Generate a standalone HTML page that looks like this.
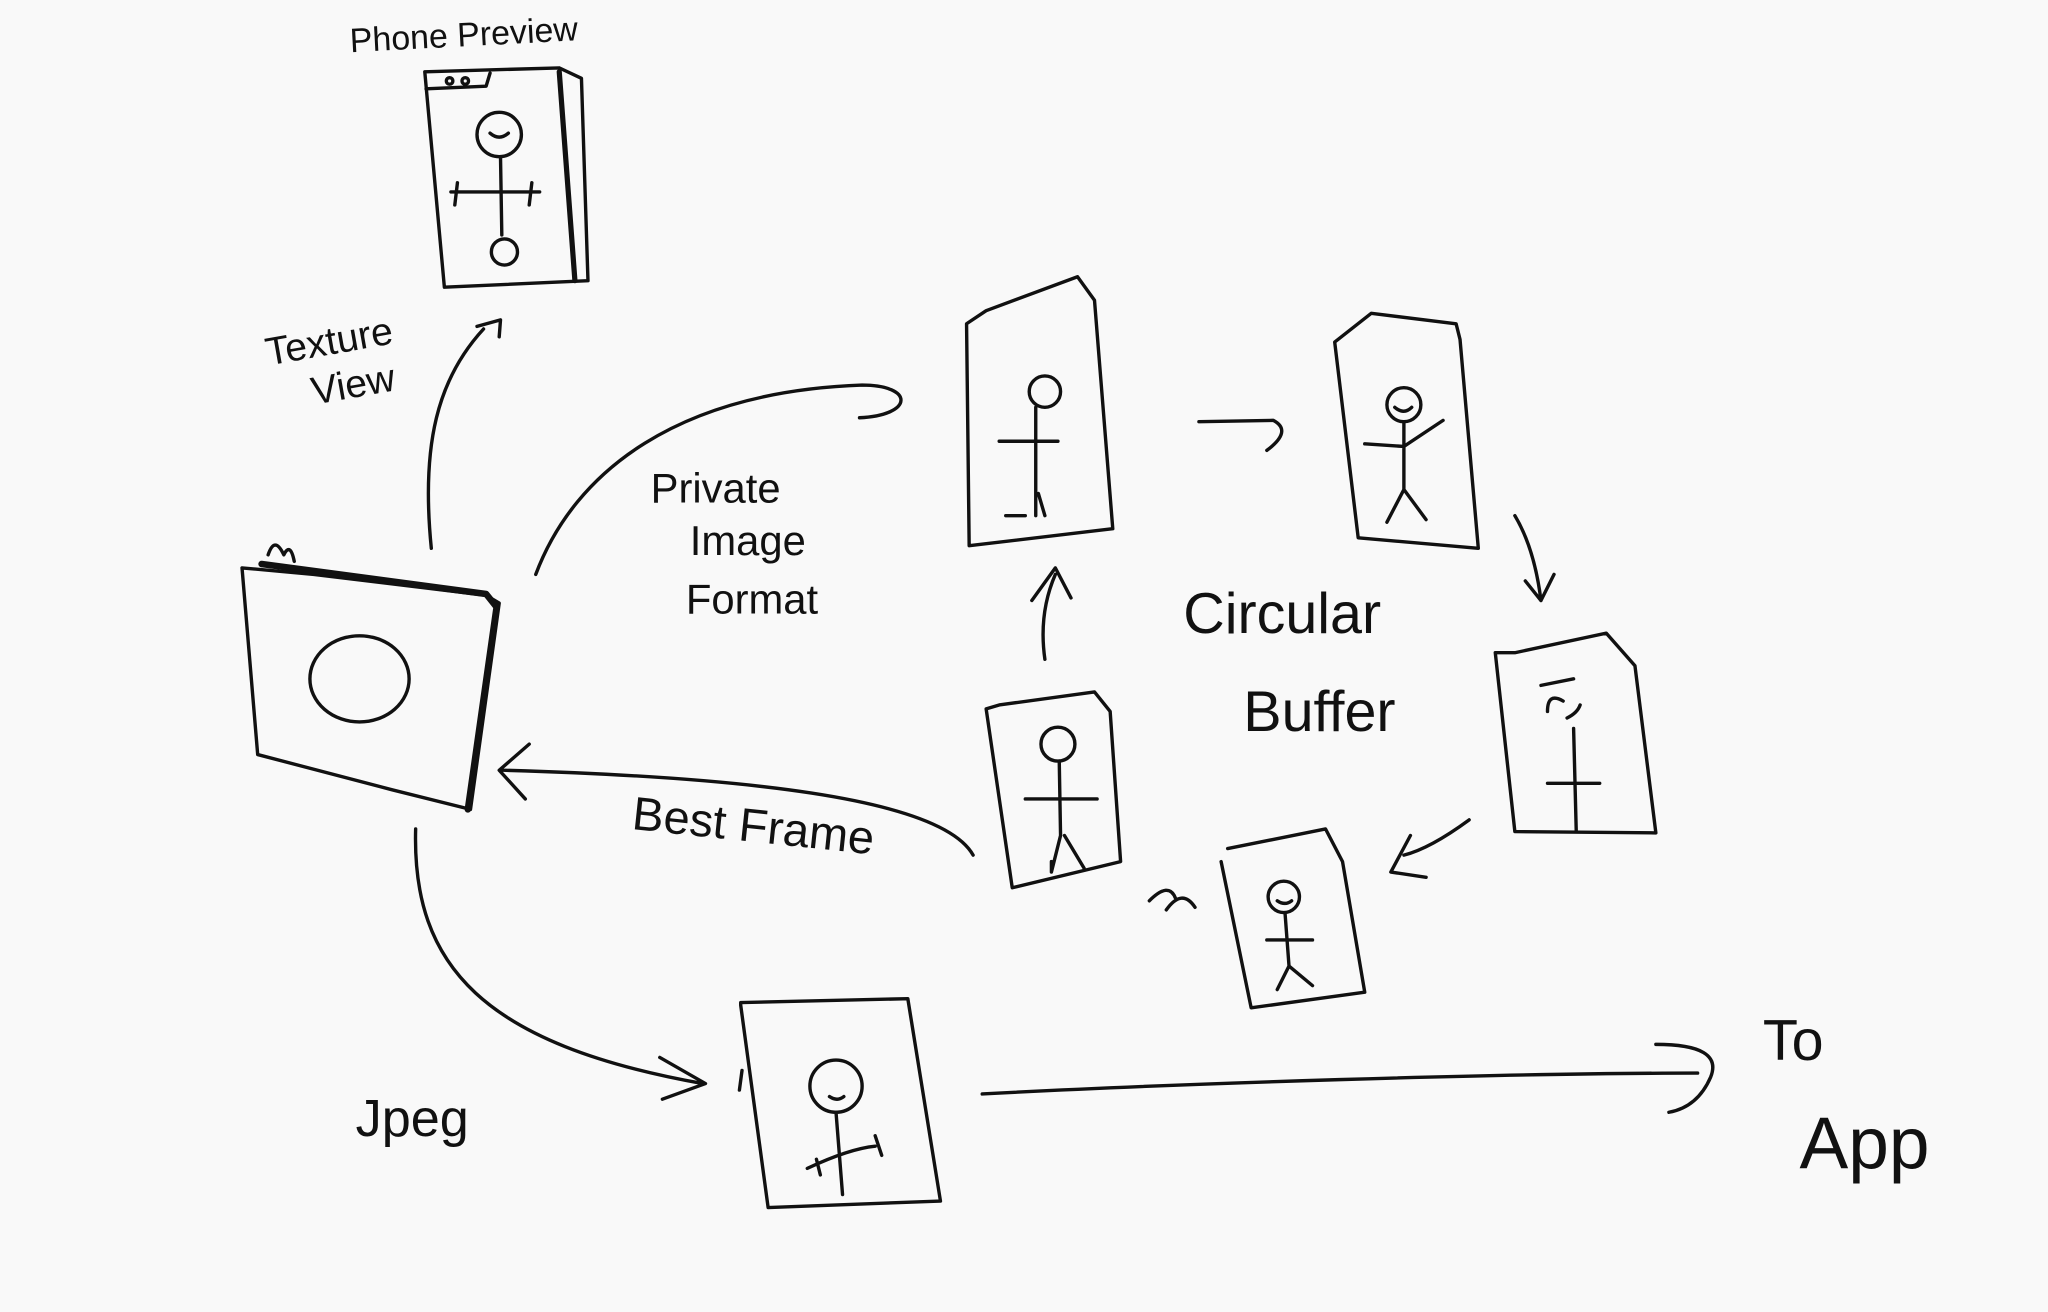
<!DOCTYPE html>
<html><head><meta charset="utf-8"><style>
html,body{margin:0;padding:0;background:#f9f9f9;}
svg{display:block}
text{font-family:"Liberation Sans",sans-serif;fill:#111;}
</style></head><body>
<svg width="2048" height="1312" viewBox="0 0 1568 1005" xmlns="http://www.w3.org/2000/svg">
<rect width="1568" height="1005" fill="#f9f9f9"/>
<g fill="none" stroke="#111" stroke-width="2.6" stroke-linecap="round" stroke-linejoin="round">
<!-- phone -->
<path d="M325 55 L428 52 L445 60 L450 215 L340 220 Z"/>
<path d="M326 68 L372 66 L375 56"/>
<circle cx="344" cy="62" r="2.5"/><circle cx="356" cy="62" r="2.5"/>
<path d="M428 55 L440 215" stroke-width="4"/>
<circle cx="382" cy="103" r="17"/>
<path d="M375 102 q7 6 14 0"/>
<path d="M383 120 L384 180 M345 147 L413 147 M348 157 L350 140 M405 157 L407 140"/>
<circle cx="386" cy="193" r="10"/>
<!-- texture arrow -->
<path d="M330 420 C322 340 335 290 370 252"/>
<path d="M365 250 L383 245 L382 258"/>
<!-- camera -->
<path d="M185 435 L240 440 L372 456 L382 462 L360 620 L300 605 L197 578 Z"/>
<path d="M200 432 L372 455 L380 465 L358 620" stroke-width="5"/>
<path d="M205 425 q5 -15 12 0 q5 -10 8 5"/>
<ellipse cx="275" cy="520" rx="38" ry="33"/>
<!-- private arrow -->
<path d="M410 440 C440 360 520 300 660 295 C700 295 700 318 658 320"/>
<!-- frame1 -->
<path d="M755 238 L825 212 L838 230 L852 405 L742 418 L740 248 Z"/>
<circle cx="800" cy="300" r="12"/>
<path d="M793 312 L793 395 M765 338 L810 338 M785 395 L770 395 M795 378 L800 395"/>
<!-- arrow 1->2 -->
<path d="M918 323 L975 322 Q990 330 970 345"/>
<!-- frame2 -->
<path d="M1050 240 L1115 248 L1118 260 L1132 420 L1040 412 L1022 262 Z"/>
<circle cx="1075" cy="310" r="13"/>
<path d="M1068 312 q7 6 13 0 M1075 323 L1075 375 L1062 400 M1075 375 L1092 398 M1045 340 L1075 342 L1105 322"/>
<!-- arrow 2->3 -->
<path d="M1160 395 Q1175 420 1180 460 M1168 445 L1180 460 L1190 440"/>
<!-- frame3 -->
<path d="M1160 500 L1230 485 L1252 510 L1268 638 L1160 637 L1145 500 Z"/>
<path d="M1180 525 L1205 520 M1185 545 q0 -15 12 -8 M1200 550 q8 -4 10 -10"/>
<path d="M1205 558 L1207 636 M1185 600 L1225 600"/>
<!-- arrow 3->4 -->
<path d="M1125 628 Q1095 650 1075 655 M1080 640 L1065 668 L1092 672"/>
<!-- frame4 -->
<path d="M940 650 L1015 635 L1028 660 L1045 760 L958 772 L935 660"/>
<circle cx="983" cy="687" r="12"/>
<path d="M978 690 q6 4 11 0 M984 700 L987 740 L978 758 M987 740 L1005 755 M970 720 L1005 720"/>
<!-- small arrow 4->5 -->
<path d="M880 690 Q895 675 900 688 M893 697 Q905 680 915 695"/>
<!-- frame5 -->
<path d="M765 540 L838 530 L850 545 L858 660 L775 680 L755 543 Z"/>
<circle cx="810" cy="570" r="13"/>
<path d="M811 583 L812 640 L805 668 M815 640 L830 665 M785 612 L840 612 M805 660 L805 668"/>
<!-- arrow 5->1 -->
<path d="M800 505 Q795 470 808 440 M790 460 L808 435 L820 458"/>
<!-- best frame arrow -->
<path d="M745 655 C720 610 560 595 385 590 M405 570 L382 590 L402 612"/>
<!-- jpeg arrow -->
<path d="M318 635 C315 740 370 800 538 830 M505 810 L540 830 L507 842"/>
<!-- jpeg frame -->
<path d="M567 768 L695 765 L720 920 L588 925 L567 770 Z"/>
<path d="M568 820 L566 835"/>
<circle cx="640" cy="832" r="20"/>
<path d="M635 840 q6 4 11 0 M640 852 L645 915 M618 895 Q650 880 670 878 M625 888 L628 900 M670 870 L675 885"/>
<!-- to app arrow -->
<path d="M752 838 C900 830 1150 822 1300 822 M1268 800 Q1320 800 1310 825 Q1300 848 1278 852"/>
</g>
<text x="268" y="40" font-size="26" transform="rotate(-3 268 40)">Phone Preview</text>
<text x="205" y="280" font-size="30" transform="rotate(-10 205 280)">Texture</text>
<text x="240" y="310" font-size="30" transform="rotate(-10 240 310)">View</text>
<text x="498" y="385" font-size="32">Private</text>
<text x="528" y="425" font-size="32">Image</text>
<text x="525" y="470" font-size="32">Format</text>
<text x="906" y="485" font-size="44">Circular</text>
<text x="952" y="560" font-size="44">Buffer</text>
<text x="483" y="635" font-size="36" transform="rotate(6 483 635)">Best Frame</text>
<text x="272" y="870" font-size="40">Jpeg</text>
<text x="1350" y="812" font-size="44">To</text>
<text x="1378" y="895" font-size="56">App</text>
</svg>
</body></html>
